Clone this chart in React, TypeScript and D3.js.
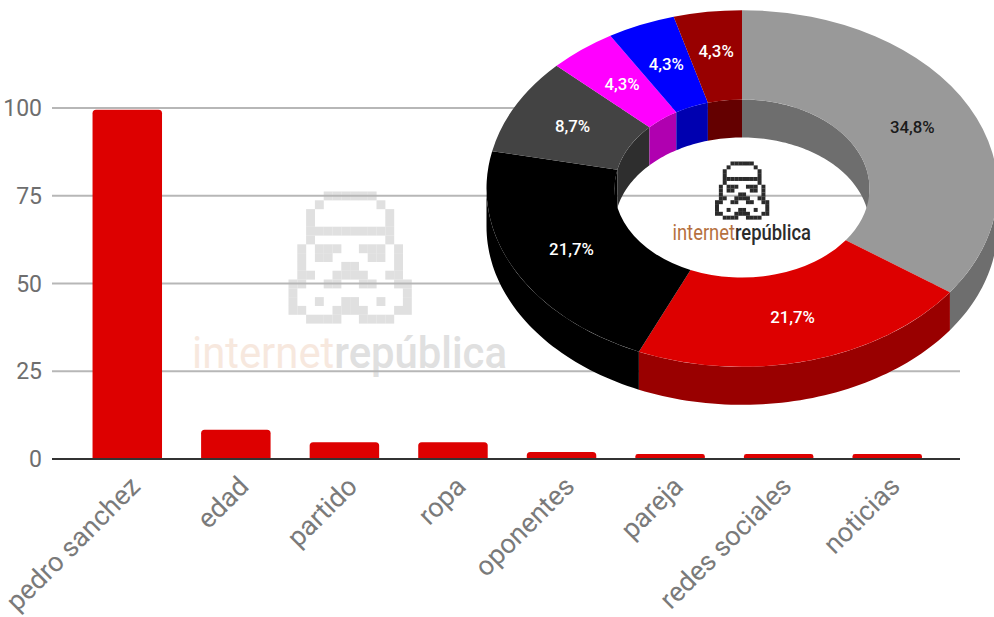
import React from "react";
import * as d3 from "d3";

const categories = ["pedro sanchez", "edad", "partido", "ropa", "oponentes", "pareja", "redes sociales", "noticias"];
const barValues = [99.5, 8.3, 4.8, 4.8, 2, 1.4, 1.4, 1.4];
const yTicks = [0, 25, 50, 75, 100];
const sliceLabels = ["34,8%", "21,7%", "21,7%", "8,7%", "4,3%", "4,3%", "4,3%"];
const sliceValues = [34.8, 21.7, 21.7, 8.7, 4.3, 4.3, 4.3];
const sliceTop = ["#999999", "#dd0000", "#000000", "#434343", "#ff00ff", "#0000ff", "#980000"];
const sliceWall = ["#6e6e6e", "#990000", "#000000", "#2e2e2e", "#b000b0", "#0000b0", "#640000"];
const sliceText = ["#1a1a1a", "#ffffff", "#ffffff", "#ffffff", "#ffffff", "#ffffff", "#ffffff"];
const trooper = [
  "....######....",
  "...#......#...",
  "..#........#..",
  "..#........#..",
  "..##########..",
  "..#........#..",
  ".#.###..###.#.",
  ".#.##....##.#.",
  ".#....##....#.",
  ".##..####..##.",
  "##..##..##..##",
  "#............#",
  "#..#..##..#..#",
  "##...####...##",
  "..####..####..",
];

const W = 994, H = 617;
const y = d3.scaleLinear().domain([0, 100]).range([459, 108]);
const x = d3.scaleBand<string>().domain(categories).range([73, 941.5]).paddingInner(0.36).paddingOuter(0.18);

const cx = 742, cy = 188.5, R = 255.5, r = 127.5, K = 0.698, DEPTH = 38;
const pie = d3.pie<number>().value((d) => d).sort(null)(sliceValues);
const arc = d3.arc<d3.PieArcDatum<number>>().innerRadius(r).outerRadius(R);

function band(a0: number, a1: number, rad: number) {
  const n = Math.max(2, Math.ceil((a1 - a0) * 40));
  const top = d3.range(n + 1).map((i) => a0 + ((a1 - a0) * i) / n);
  const pts: [number, number][] = [
    ...top.map((a) => [rad * Math.sin(a), -rad * K * Math.cos(a)] as [number, number]),
    ...top.slice().reverse().map((a) => [rad * Math.sin(a), -rad * K * Math.cos(a) + DEPTH] as [number, number]),
  ];
  return d3.line()(pts) + "Z";
}

function Trooper({ x0, y0, size, fill }: { x0: number; y0: number; size: number; fill: string }) {
  return (
    <g fill={fill}>
      {trooper.flatMap((row, j) =>
        row.split("").map((c, i) =>
          c === "#" ? <rect key={`${i}-${j}`} x={x0 + i * size} y={y0 + j * size} width={size + 0.1} height={size + 0.1} /> : null
        )
      )}
    </g>
  );
}

function Logo({ a, c, base, fs, c1, c2 }: any) {
  return (
    <text x={a} y={base} fontFamily="Roboto, sans-serif" fontSize={fs} textLength={c - a} lengthAdjust="spacingAndGlyphs">
      <tspan fill={c1} fontWeight={400}>internet</tspan>
      <tspan fill={c2} fontWeight={500}>república</tspan>
    </text>
  );
}

export default function App() {
  const PI = Math.PI;
  return (
    <svg width={W} height={H} viewBox={`0 0 ${W} ${H}`} style={{ position: "absolute", left: 0, top: 0, background: "#fff" }} fontFamily="Roboto, sans-serif">
      <Trooper x0={288.5} y0={191.5} size={8.8} fill="#e0e0e0" />
      <Logo a={192} c={507} base={368} fs={45} c1="#f7e8de" c2="#e0e0e0" />
      {yTicks.map((t) => (
        <g key={t}>
          {t > 0 && <line x1={52} x2={960} y1={y(t)} y2={y(t)} stroke="#b7b7b7" strokeWidth={2} />}
          <text x={42} y={y(t) + 8} textAnchor="end" fontSize={23} fill="#6e6e6e">{t}</text>
        </g>
      ))}
      {categories.map((c, i) => {
        const bx = x(c)!, w = x.bandwidth(), ty = y(barValues[i]), b = y(0);
        const rr = Math.min(3.5, (b - ty) / 2);
        return (
          <path key={c} fill="#dd0000" d={`M${bx},${b}V${ty + rr}Q${bx},${ty} ${bx + rr},${ty}H${bx + w - rr}Q${bx + w},${ty} ${bx + w},${ty + rr}V${b}Z`} />
        );
      })}
      <line x1={52} x2={960} y1={y(0)} y2={y(0)} stroke="#333333" strokeWidth={2} />
      {categories.map((c) => {
        const px = x(c)! + x.bandwidth() / 2 + 14.5, py = 488;
        return (
          <text key={c} transform={`translate(${px},${py}) rotate(-45)`} textAnchor="end" fontSize={27} fill="#7a7a7a">{c}</text>
        );
      })}
      <g transform={`translate(${cx},${cy})`}>
        {pie.map((d, i) => {
          const a0 = Math.max(d.startAngle, PI / 2), a1 = Math.min(d.endAngle, (3 * PI) / 2);
          return a1 > a0 ? <path key={i} d={band(a0, a1, R)} fill={sliceWall[i]} /> : null;
        })}
        {pie.flatMap((d, i) => {
          const out: React.ReactNode[] = [];
          const a0 = Math.max(d.startAngle, (3 * PI) / 2), a1 = d.endAngle;
          if (a1 > a0) out.push(<path key={`l${i}`} d={band(a0, a1, r)} fill={sliceWall[i]} />);
          const b1 = Math.min(d.endAngle, PI / 2);
          if (b1 > d.startAngle) out.push(<path key={`r${i}`} d={band(d.startAngle, b1, r)} fill={sliceWall[i]} />);
          return out;
        })}
        <g transform={`scale(1,${K})`}>
          {pie.map((d, i) => (
            <path key={i} d={arc(d)!} fill={sliceTop[i]} />
          ))}
        </g>
        {pie.map((d, i) => {
          const [lx, ly] = arc.centroid(d);
          // the two smallest top slices sit a little higher than their centroid in the source
          const lift = i === 5 ? 1 : i === 6 ? 5 : 0;
          return (
            <text key={i} x={lx} y={ly * K + 5.5 - lift} textAnchor="middle" fontSize={16.8} fontWeight={500} fill={sliceText[i]}>{sliceLabels[i]}</text>
          );
        })}
      </g>
      <Trooper x0={715} y0={161.5} size={3.87} fill="#2b2b2b" />
      <Logo a={672.5} c={811} base={240} fs={22} c1="#b5713f" c2="#2b2b2b" />
    </svg>
  );
}
